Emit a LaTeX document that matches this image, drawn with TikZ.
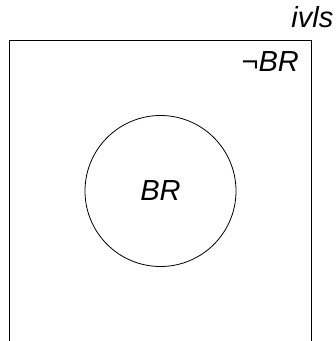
\documentclass[tikz,border=0pt]{standalone}
\usepackage{fontspec}
\setmainfont{Liberation Sans}
\begin{document}
\begin{tikzpicture}[x=1pt,y=-1pt,
  lbl/.style={font=\fontsize{29}{33}\selectfont\itshape, inner sep=0pt},
  boxline/.style={line width=1.1pt},
  set/.style={circle, draw, line width=0.8pt, minimum size=151pt, inner sep=0pt}]
\useasboundingbox (0,0) rectangle (336,341);
\draw[boxline] (9.5,345) -- (9.5,40.5) -- (311.5,40.5) -- (311.5,345);
\node[lbl, anchor=base east] (ivls) at (333.5,27.5) {ivls};
\node[lbl, anchor=base east] (nbr) at (299,71.5) {¬BR};
\node[set] (br) at (160.5,191) {};
\node[lbl] (brl) at (br.center) {BR};
\end{tikzpicture}
\end{document}
